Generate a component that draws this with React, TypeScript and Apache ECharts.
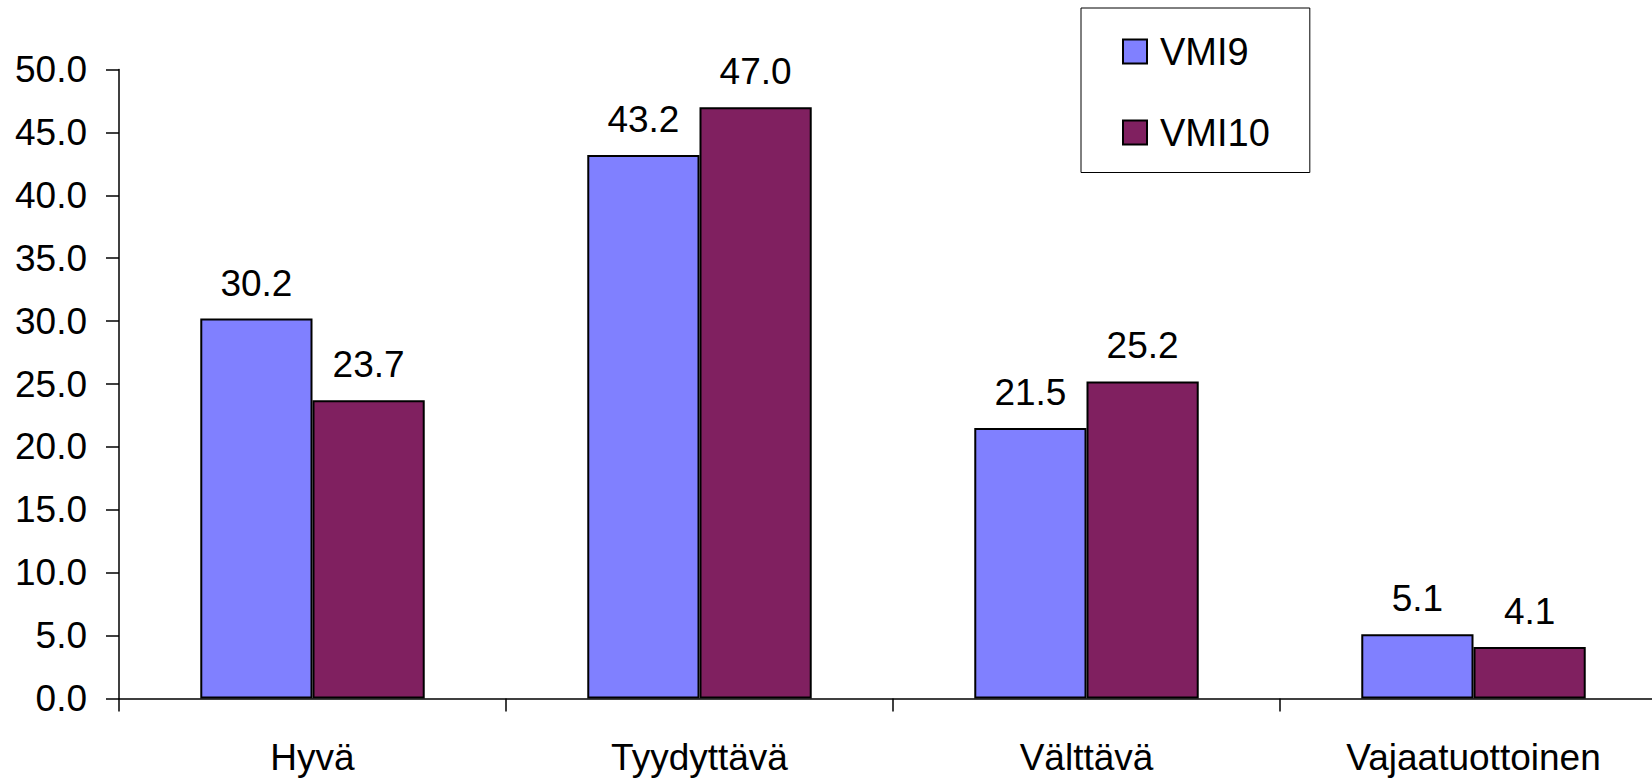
import React, { useEffect, useRef } from "react";
import * as echarts from "echarts";

const categories = ["Hyvä", "Tyydyttävä", "Välttävä", "Vajaatuottoinen"];
const seriesNames = ["VMI9", "VMI10"];
const vmi9 = [30.2, 43.2, 21.5, 5.1];
const vmi10 = [23.7, 47.0, 25.2, 4.1];
const colors = ["#8080ff", "#802060"];

export default function App() {
  const ref = useRef<HTMLDivElement>(null);
  useEffect(() => {
    const chart = echarts.init(ref.current!, undefined, { renderer: "svg" });
    const font = "Liberation Sans, Arial, sans-serif";
    const mk = (name: string, data: number[], color: string) => ({
      name,
      type: "bar",
      data,
      barGap: "0%",
      barCategoryGap: "42%",
      itemStyle: { color, borderColor: "#000", borderWidth: 2 },
      label: {
        show: true,
        position: "top",
        distance: 17,
        formatter: (p: any) => Number(p.value).toFixed(1),
        fontSize: 37,
        fontFamily: font,
        color: "#000",
      },
    });
    chart.setOption({
      animation: false,
      backgroundColor: "#fff",
      grid: { left: 119, right: 0, top: 69.5, bottom: 80.5, containLabel: false },
      legend: {
        orient: "vertical",
        left: 1081,
        top: 8,
        padding: [24.5, 40, 21, 41],
        itemGap: 43,
        itemWidth: 24,
        itemHeight: 24,
        borderColor: "#000",
        borderWidth: 1,
        icon: "rect",
        textStyle: { fontSize: 38, fontFamily: font, color: "#000", padding: [0, 0, 0, 8] },
        data: seriesNames.map((n) => ({ name: n, itemStyle: { borderColor: "#000", borderWidth: 2 } })),
      },
      xAxis: {
        type: "category",
        data: categories,
        axisLine: { lineStyle: { color: "#000", width: 1.5 } },
        axisTick: { show: true, length: 13, lineStyle: { color: "#000", width: 1.5 } },
        axisLabel: { fontSize: 37, fontFamily: font, color: "#000", margin: 40 },
      },
      yAxis: {
        type: "value",
        min: 0,
        max: 50,
        interval: 5,
        splitLine: { show: false },
        axisLine: { show: true, lineStyle: { color: "#000", width: 1.5 } },
        axisTick: { show: true, length: 13, lineStyle: { color: "#000", width: 1.5 } },
        axisLabel: {
          fontSize: 37,
          fontFamily: font,
          color: "#000",
          margin: 32,
          formatter: (v: number) => v.toFixed(1),
        },
      },
      series: [mk(seriesNames[0], vmi9, colors[0]), mk(seriesNames[1], vmi10, colors[1])],
    });
    return () => chart.dispose();
  }, []);
  return (
    <div
      style={{ position: "absolute", left: 0, top: 0, width: 1652, height: 779, overflow: "hidden" }}
    >
      <div ref={ref} style={{ width: 1667, height: 779 }} />
    </div>
  );
}
